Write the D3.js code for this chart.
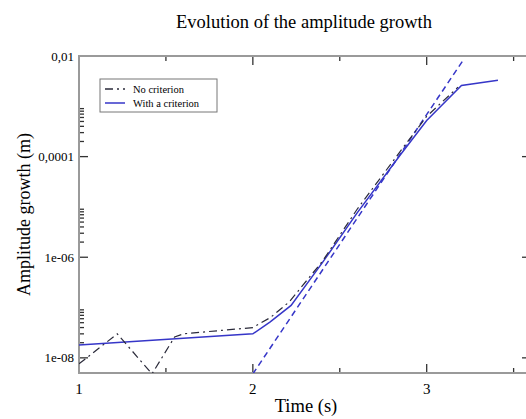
<!DOCTYPE html>
<html>
<head>
<meta charset="utf-8">
<script src="https://cdn.jsdelivr.net/npm/d3@7"></script>
<style>
  body { margin: 0; background: #fff; }
  svg { font-family: "Liberation Serif", "DejaVu Serif", serif; }
  .frame { fill: none; stroke: #9a9a9a; stroke-width: 2; }
  .tick-mark { stroke: #333; stroke-width: 1.3; }
</style>
</head>
<body>
<script>
// series
const noCritTime = [1.0, 1.22, 1.42, 1.55, 1.6, 2.0, 2.1, 2.21, 2.4, 2.6, 2.85, 3.0, 3.18];
const noCritAmp = [7.6e-9, 3.0e-8, 4.8e-9, 2.6e-8, 3.0e-8, 4.0e-8, 6.3e-8, 1.3e-7, 8.3e-7, 9e-6, 1.3e-4, 6.3e-4, 2.4e-3];

const critTime = [1.0, 2.0, 2.1, 2.22, 2.4, 2.6, 2.85, 3.0, 3.2, 3.41];
const critAmp = [1.8e-8, 3.0e-8, 5.2e-8, 1.1e-7, 7.8e-7, 7.6e-6, 1.1e-4, 5.2e-4, 2.6e-3, 3.3e-3];

const fitTime = [2.0, 3.21];
const fitAmp = [4.8e-9, 8.3e-3];

const xMajor = [1, 2, 3];
const xMinor = [1.5, 2.5, 3.5];
const yMajor = [1e-8, 1e-6, 1e-4, 1e-2];
const yMajorLabels = ["1e-08", "1e-06", "0,0001", "0,01"];
const yMinorDecades = [1e-8, 1e-6, 1e-4];
const legendLabels = ["No criterion", "With a criterion"];

const width = 526, height = 419;
const margin = { top: 56, left: 79 };
const plotW = 452, plotH = 317;
const blue = "#3636c8";
const dark = "#2a2a3a";

const svg = d3.select("body").append("svg")
  .attr("width", width)
  .attr("height", height);

const x = d3.scaleLinear().domain([1, 3.6]).range([margin.left, margin.left + plotW]);
const y = d3.scaleLog().domain([5e-9, 0.01]).range([margin.top + plotH, margin.top]);

svg.append("clipPath").attr("id", "plot-clip")
  .append("rect")
  .attr("x", x.range()[0]).attr("y", margin.top)
  .attr("width", plotW).attr("height", plotH);

// minor log ticks: only in the decade above each labelled one
const yMinor = [];
yMinorDecades.forEach((d) => {
  for (let k = 2; k <= 9; k++) yMinor.push(d * k);
});

const ticks = svg.append("g");
const x0 = x.range()[0], x1 = x.range()[1];
const yb = y.range()[0], yt = y.range()[1];

// bottom and top ticks (inward)
xMajor.concat(xMinor).forEach((v) => {
  const len = xMajor.includes(v) ? 9 : 5;
  ticks.append("line").attr("class", "tick-mark")
    .attr("x1", x(v)).attr("x2", x(v)).attr("y1", yb).attr("y2", yb - len);
  ticks.append("line").attr("class", "tick-mark")
    .attr("x1", x(v)).attr("x2", x(v)).attr("y1", yt).attr("y2", yt + len);
});

// left and right ticks (inward)
yMajor.concat(yMinor).forEach((v) => {
  const len = yMajor.includes(v) ? 9 : 5;
  ticks.append("line").attr("class", "tick-mark")
    .attr("x1", x0).attr("x2", x0 + len).attr("y1", y(v)).attr("y2", y(v));
  ticks.append("line").attr("class", "tick-mark")
    .attr("x1", x1).attr("x2", x1 - len).attr("y1", y(v)).attr("y2", y(v));
});

svg.append("rect").attr("class", "frame")
  .attr("x", x0).attr("y", yt)
  .attr("width", plotW).attr("height", plotH);

// tick labels
svg.append("g").selectAll("text")
  .data(xMajor)
  .join("text")
  .attr("x", (d) => x(d))
  .attr("y", yb + 21)
  .attr("text-anchor", "middle")
  .attr("font-size", 15)
  .text((d) => d);

svg.append("g").selectAll("text")
  .data(yMajor)
  .join("text")
  .attr("x", x0 - 5)
  .attr("y", (d) => y(d))
  .attr("dy", "0.35em")
  .attr("text-anchor", "end")
  .attr("font-size", 13)
  .text((d, i) => yMajorLabels[i]);

// lines
const line = d3.line()
  .x((d) => x(d[0]))
  .y((d) => y(d[1]));

const plot = svg.append("g").attr("clip-path", "url(#plot-clip)");

plot.append("path")
  .datum(fitTime.map((t, i) => [t, fitAmp[i]]))
  .attr("fill", "none")
  .attr("stroke", blue)
  .attr("stroke-width", 1.5)
  .attr("stroke-dasharray", "6,4")
  .attr("d", line);

plot.append("path")
  .datum(critTime.map((t, i) => [t, critAmp[i]]))
  .attr("fill", "none")
  .attr("stroke", blue)
  .attr("stroke-width", 1.5)
  .attr("d", line);

plot.append("path")
  .datum(noCritTime.map((t, i) => [t, noCritAmp[i]]))
  .attr("fill", "none")
  .attr("stroke", dark)
  .attr("stroke-width", 1.2)
  .attr("stroke-dasharray", "8,4,2,4")
  .attr("d", line);

// legend
const legend = svg.append("g").attr("transform", "translate(100,79)");
legend.append("rect")
  .attr("width", 117).attr("height", 33)
  .attr("fill", "#fff").attr("stroke", "#777").attr("stroke-width", 1);
const legendStyles = [
  { color: dark, dash: "8,4,2,4" },
  { color: blue, dash: null }
];
legendLabels.forEach((label, i) => {
  const ly = 10 + i * 14;
  legend.append("line")
    .attr("x1", 5).attr("x2", 25).attr("y1", ly).attr("y2", ly)
    .attr("stroke", legendStyles[i].color)
    .attr("stroke-width", 1.5)
    .attr("stroke-dasharray", legendStyles[i].dash);
  legend.append("text")
    .attr("x", 33).attr("y", ly)
    .attr("dy", "0.35em")
    .attr("font-size", 10.5)
    .text(label);
});

// titles
svg.append("text")
  .attr("x", 304).attr("y", 28)
  .attr("text-anchor", "middle")
  .attr("font-size", 18.5)
  .text("Evolution of the amplitude growth");

svg.append("text")
  .attr("x", 306).attr("y", 412)
  .attr("text-anchor", "middle")
  .attr("font-size", 18.5)
  .text("Time (s)");

svg.append("text")
  .attr("transform", "translate(30," + (yt + plotH / 2) + ") rotate(-90)")
  .attr("text-anchor", "middle")
  .attr("font-size", 18)
  .text("Amplitude growth (m)");
</script>
</body>
</html>
